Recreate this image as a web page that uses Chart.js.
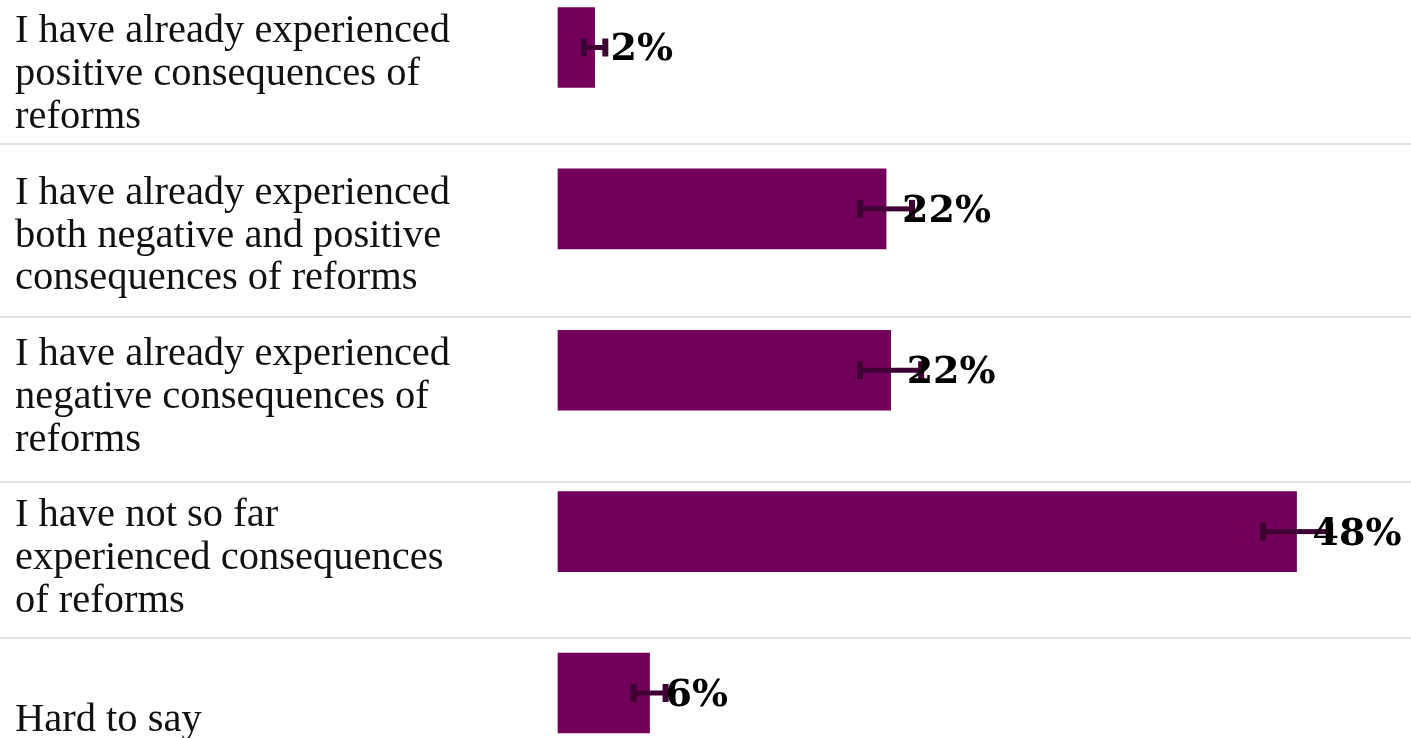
<!DOCTYPE html>
<html><head><meta charset="utf-8">
<script src="https://cdn.jsdelivr.net/npm/chart.js@4/dist/chart.umd.min.js"></script>
<style>html,body{margin:0;padding:0;background:#fff;overflow:hidden}</style>
</head><body>
<canvas id="c" width="1411" height="738"></canvas>
<script>
const categories = [
  ["I have already experienced", "positive consequences of", "reforms"],
  ["I have already experienced", "both negative and positive", "consequences of reforms"],
  ["I have already experienced", "negative consequences of", "reforms"],
  ["I have not so far", "experienced consequences", "of reforms"],
  ["Hard to say"]
];
const values = [2.4, 21.5, 21.8, 48.4, 6.0];
const errorMargins = [0.7, 1.7, 2.0, 2.2, 1.05];
const valueLabels = ["2%", "22%", "22%", "48%", "6%"];

const separatorFractions = [0.60, 0.67, 0.69, 0.66];

const overlay = {
  id: 'overlay',
  beforeDatasetsDraw(chart) {
    const ctx = chart.ctx, ys = chart.scales.y;
    ctx.save();
    ctx.fillStyle = '#e2e2e2';
    for (let i = 0; i < categories.length - 1; i++) {
      const a = ys.getPixelForValue(i), b = ys.getPixelForValue(i + 1);
      const y = Math.round(a + separatorFractions[i] * (b - a));
      ctx.fillRect(0, y - 1, chart.width, 2);
    }
    ctx.restore();
  },
  afterDatasetsDraw(chart) {
    const ctx = chart.ctx, xs = chart.scales.x;
    const meta = chart.getDatasetMeta(0);
    ctx.save();
    ctx.fillStyle = '#3e0032';
    meta.data.forEach((bar, i) => {
      const y = bar.y;
      const lo = xs.getPixelForValue(values[i] - errorMargins[i]);
      const hi = xs.getPixelForValue(values[i] + errorMargins[i]);
      ctx.fillRect(lo, y - 2.5, hi - lo, 5);
      ctx.fillRect(lo - 3, y - 9, 6, 18);
      ctx.fillRect(hi - 3, y - 9, 6, 18);
    });
    ctx.fillStyle = '#000';
    ctx.font = 'bold 38px "DejaVu Serif"';
    ctx.textAlign = 'left';
    ctx.textBaseline = 'middle';
    meta.data.forEach((bar, i) => {
      ctx.fillText(valueLabels[i], bar.x + 16, bar.y + 3);
    });
    ctx.restore();
  }
};

new Chart(document.getElementById('c'), {
  type: 'bar',
  data: {
    labels: categories,
    datasets: [{
      data: values,
      backgroundColor: '#72005a',
      barThickness: 80,
      clip: false
    }]
  },
  options: {
    indexAxis: 'y',
    responsive: false,
    devicePixelRatio: 1,
    animation: false,
    layout: { padding: { left: 15, right: 0, top: 47.5, bottom: 45 } },
    plugins: { legend: { display: false }, tooltip: { enabled: false } },
    scales: {
      x: { display: false, min: 0, max: 55.9 },
      y: {
        offset: false,
        grid: { display: false },
        border: { display: false },
        ticks: {
          crossAlign: 'far',
          labelOffset: 27,
          padding: 0,
          color: '#111',
          font: { family: '"Liberation Serif"', size: 40.5, lineHeight: 1.06 }
        },
        afterFit(scale) {
          scale.width = 543;
          scale.paddingTop = 0;
          scale.paddingBottom = 0;
        }
      }
    }
  },
  plugins: [overlay]
});
</script>
</body></html>
